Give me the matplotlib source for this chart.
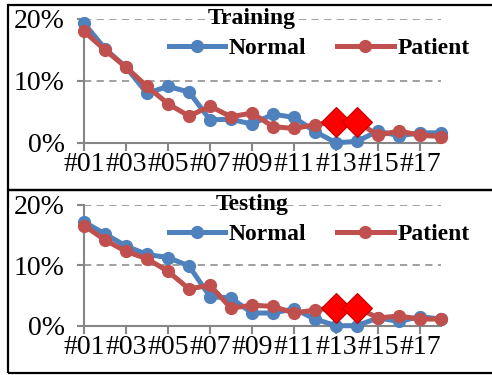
import matplotlib
matplotlib.use("Agg")
import matplotlib.pyplot as plt
from matplotlib.patches import Rectangle

plt.rcParams['font.family'] = ['Liberation Serif', 'DejaVu Serif']

categories = ["#%02d" % i for i in range(1, 19)]
train_normal = [19.3, 15.2, 12.2, 8.0, 9.1, 8.2, 3.7, 3.8, 3.0, 4.6, 4.1, 1.8, 0.0, 0.2, 1.9, 1.1, 1.6, 1.6]
train_patient = [18.0, 15.0, 12.2, 9.1, 6.3, 4.3, 5.9, 4.2, 4.8, 2.6, 2.3, 2.9, 3.4, 3.4, 1.2, 1.9, 1.2, 1.0]
test_normal = [17.2, 15.2, 13.2, 11.8, 11.3, 9.9, 4.8, 4.6, 2.1, 2.1, 2.8, 1.1, 0.0, 0.0, 1.3, 0.7, 1.5, 1.1]
test_patient = [16.6, 14.2, 12.3, 11.1, 9.0, 6.1, 6.7, 2.9, 3.4, 3.2, 2.1, 2.6, 3.0, 3.0, 1.3, 1.6, 1.1, 1.1]
highlight_idx = [12, 13]
yticks = [0, 10, 20]
ytick_labels = ["0%", "10%", "20%"]

BLUE = "#4F81BD"
RED = "#C0504D"
GRAY = "#868686"

W, H = 492, 375
fig = plt.figure(figsize=(W / 100, H / 100), dpi=100)

def fx(px):
    return px / W

def fy(py):
    return 1 - py / H

panels = [
    ("Training", train_normal, train_patient, 19.0, 142.7, 5, 190),
    ("Testing", test_normal, test_patient, 205.0, 325.7, 190, 373),
]

for title, normal, patient, ytop, ybot, boxtop, boxbot in panels:
    # panel border
    fig.patches.append(Rectangle((fx(8), fy(boxbot)), 1.2, fy(boxtop) - fy(boxbot),
                                 transform=fig.transFigure, fill=False,
                                 edgecolor="black", linewidth=1.6, zorder=0))
    ax = fig.add_axes([fx(84), fy(ybot), fx(441) - fx(84), fy(ytop) - fy(ybot)])
    ax.patch.set_alpha(0)
    x = list(range(len(categories)))
    ax.plot(x, normal, color=BLUE, linewidth=3.6, marker='o', markersize=8.5,
            label="Normal", clip_on=False, zorder=3)
    ax.plot(x, patient, color=RED, linewidth=3.6, marker='o', markersize=8.5,
            label="Patient", clip_on=False, zorder=4)
    ax.plot(highlight_idx, [patient[i] for i in highlight_idx], linestyle='none',
            marker='D', markersize=15.5, markerfacecolor="#FF0000",
            markeredgecolor="#C00000", markeredgewidth=0.8, clip_on=False, zorder=5)
    ax.set_xlim(0, len(categories) - 1)
    ax.set_ylim(0, 20)
    ax.set_yticks(yticks)
    ax.set_yticklabels(ytick_labels)
    ax.set_xticks(x[::2])
    ax.set_xticklabels(categories[::2])
    for v in yticks[1:]:
        ax.axhline(v, color="#999999", linestyle=(0, (4, 3)), linewidth=1.3, zorder=1)
    for s in ["top", "right"]:
        ax.spines[s].set_visible(False)
    for s in ["bottom", "left"]:
        ax.spines[s].set_color(GRAY)
        ax.spines[s].set_linewidth(1.5)
    ax.tick_params(axis='y', length=5, width=1.5, color=GRAY, labelsize=20, pad=9)
    ax.tick_params(axis='x', length=6, width=1.5, color=GRAY, labelsize=20, pad=1)
    fig.text(fx(252), fy(ytop - 0.5), title, ha='center', va='center',
             fontsize=17, fontweight='bold', zorder=0.5)
    leg = ax.legend(ncol=2, loc='center', bbox_to_anchor=(fx(319), fy(ytop + 29)),
                    bbox_transform=fig.transFigure, frameon=False,
                    prop={'size': 17, 'weight': 'bold'}, handlelength=2.4,
                    handletextpad=0.15, columnspacing=1.3, borderpad=0)

fig.savefig("out.png", dpi=100)
